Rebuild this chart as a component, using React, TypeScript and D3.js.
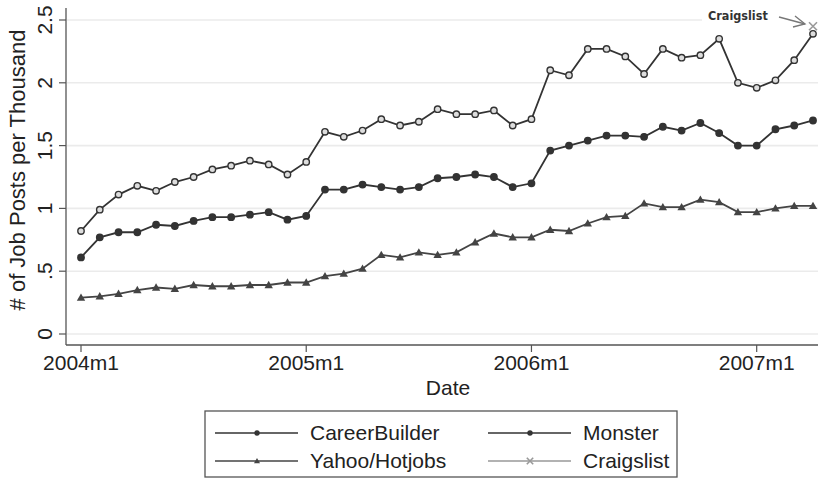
import React from "react";
import * as d3 from "d3";

const W = 820;
const H = 480;

const years = [2004, 2005, 2006, 2007];
const months = d3.range(40).map((i) => `${2004 + Math.floor(i / 12)}m${(i % 12) + 1}`);

const careerBuilder = [
  0.82, 0.99, 1.11, 1.18, 1.14, 1.21, 1.25, 1.31, 1.34, 1.38, 1.35, 1.27, 1.37,
  1.61, 1.57, 1.62, 1.71, 1.66, 1.69, 1.79, 1.75, 1.75, 1.78, 1.66, 1.71,
  2.10, 2.06, 2.27, 2.27, 2.21, 2.07, 2.27, 2.20, 2.22, 2.35, 2.00, 1.96, 2.02, 2.18, 2.39,
];
const monster = [
  0.61, 0.77, 0.81, 0.81, 0.87, 0.86, 0.90, 0.93, 0.93, 0.95, 0.97, 0.91, 0.94,
  1.15, 1.15, 1.19, 1.17, 1.15, 1.17, 1.24, 1.25, 1.27, 1.25, 1.17, 1.20,
  1.46, 1.50, 1.54, 1.58, 1.58, 1.57, 1.65, 1.62, 1.68, 1.60, 1.50, 1.50, 1.63, 1.66, 1.70,
];
const yahoo = [
  0.29, 0.30, 0.32, 0.35, 0.37, 0.36, 0.39, 0.38, 0.38, 0.39, 0.39, 0.41, 0.41,
  0.46, 0.48, 0.52, 0.63, 0.61, 0.65, 0.63, 0.65, 0.73, 0.80, 0.77, 0.77,
  0.83, 0.82, 0.88, 0.93, 0.94, 1.04, 1.01, 1.01, 1.07, 1.05, 0.97, 0.97, 1.00, 1.02, 1.02,
];
const craigslist: (number | null)[] = months.map((_, i) => (i === 39 ? 2.45 : null));

const yTicks = [0, 0.5, 1, 1.5, 2, 2.5];
const yTickLabels = ["0", ".5", "1", "1.5", "2", "2.5"];
const xTickIdx = [0, 12, 24, 36];
const xTickLabels = years.map((y) => `${y}m1`);

const seriesNames = ["CareerBuilder", "Monster", "Yahoo/Hotjobs", "Craigslist"];

const FONT = "'Liberation Sans', Arial, sans-serif";
const LINE = "#333";
const YCOL = "#444";
const CCOL = "#999";

const x = d3.scaleLinear().domain([0, 39]).range([81, 813]);
const y = d3.scaleLinear().domain([0, 2.5]).range([334, 20]);

const line = d3
  .line<number>()
  .x((_, i) => x(i))
  .y((d) => y(d));

function Circle({ cx, cy, hollow, color, r = 3.2 }: { cx: number; cy: number; hollow?: boolean; color: string; r?: number }) {
  return (
    <circle cx={cx} cy={cy} r={r} fill={hollow ? "#ddd" : color} stroke={color} strokeWidth={1.4} />
  );
}
function Tri({ cx, cy, color, s = 4.2 }: { cx: number; cy: number; color: string; s?: number }) {
  return (
    <path d={`M${cx},${cy - s}L${cx + s},${cy + s * 0.75}L${cx - s},${cy + s * 0.75}Z`} fill={color} />
  );
}
function Cross({ cx, cy, color, s = 4 }: { cx: number; cy: number; color: string; s?: number }) {
  return (
    <path d={`M${cx - s},${cy - s}L${cx + s},${cy + s}M${cx - s},${cy + s}L${cx + s},${cy - s}`} stroke={color} strokeWidth={1.6} />
  );
}

export default function App() {
  const plotLeft = 66;
  const plotRight = 818;
  const axisY = 345;
  return (
    <svg width={W} height={H} style={{ position: "absolute", left: 0, top: 0, background: "#fff" }} fontFamily={FONT}>
      <rect x={0} y={0} width={W} height={H} fill="#fff" />
      {/* gridlines */}
      {yTicks.map((t) => (
        <line key={t} x1={plotLeft + 1} x2={plotRight} y1={y(t)} y2={y(t)} stroke="#ebebeb" strokeWidth={1.6} />
      ))}
      {/* label box covering gridline */}
      <rect x={702} y={6} width={118} height={17} fill="#fff" />
      {/* axes */}
      <line x1={plotLeft} x2={plotLeft} y1={8} y2={axisY} stroke="#555" strokeWidth={1.3} />
      <line x1={plotLeft} x2={plotRight} y1={axisY} y2={axisY} stroke="#555" strokeWidth={1.3} />
      {yTicks.map((t, i) => (
        <g key={t}>
          <line x1={plotLeft - 7} x2={plotLeft} y1={y(t)} y2={y(t)} stroke="#555" strokeWidth={1.2} />
          <text
            transform={`translate(${plotLeft - 14},${y(t)}) rotate(-90)`}
            textAnchor="middle"
            fontSize={21}
            fill="#222"
          >
            {yTickLabels[i]}
          </text>
        </g>
      ))}
      {xTickIdx.map((t, i) => (
        <g key={t}>
          <line x1={x(t)} x2={x(t)} y1={axisY} y2={axisY + 7} stroke="#555" strokeWidth={1.2} />
          <text x={x(t)} y={axisY + 25} textAnchor="middle" fontSize={21} fill="#222">
            {xTickLabels[i]}
          </text>
        </g>
      ))}
      <text x={448} y={395} textAnchor="middle" fontSize={21} fill="#222">
        Date
      </text>
      <text transform={`translate(25,170) rotate(-90)`} textAnchor="middle" fontSize={22} fill="#222">
        # of Job Posts per Thousand
      </text>

      {/* series */}
      <path d={line(yahoo) || ""} fill="none" stroke={YCOL} strokeWidth={1.8} />
      <path d={line(monster) || ""} fill="none" stroke={LINE} strokeWidth={1.8} />
      <path d={line(careerBuilder) || ""} fill="none" stroke={LINE} strokeWidth={1.8} />
      {yahoo.map((v, i) => (
        <Tri key={"y" + i} cx={x(i)} cy={y(v)} color={YCOL} />
      ))}
      {monster.map((v, i) => (
        <Circle key={"m" + i} cx={x(i)} cy={y(v)} color={LINE} />
      ))}
      {careerBuilder.map((v, i) => (
        <Circle key={"c" + i} cx={x(i)} cy={y(v)} hollow color={LINE} />
      ))}
      {craigslist.map((v, i) =>
        v == null ? null : <Cross key={"g" + i} cx={x(i)} cy={y(v)} color={CCOL} />
      )}

      {/* annotation */}
      <text x={708} y={20} fontSize={12.5} fontWeight="bold" fill="#333" fontFamily="'DejaVu Sans Condensed', 'Liberation Sans Narrow', sans-serif">
        Craigslist
      </text>
      <line x1={779} y1={17} x2={805} y2={24} stroke="#777" strokeWidth={1.3} />
      <path d="M795,16 L805,24 L793,27" fill="none" stroke="#777" strokeWidth={1.3} />

      {/* legend */}
      <rect x={205} y={411} width={472} height={66} fill="#fff" stroke="#555" strokeWidth={1.3} />
      {seriesNames.map((name, i) => {
        const col = i % 2;
        const row = Math.floor(i / 2);
        const lx = col === 0 ? 215 : 488;
        const ly = row === 0 ? 433 : 461;
        const mx = lx + 42;
        const color = i === 3 ? CCOL : i === 2 ? YCOL : LINE;
        return (
          <g key={name}>
            <line x1={lx} x2={lx + 83} y1={ly} y2={ly} stroke={color} strokeWidth={1.6} />
            {i === 0 && <Circle cx={mx} cy={ly} color={color} r={2} />}
            {i === 1 && <Circle cx={mx} cy={ly} color={color} r={2} />}
            {i === 2 && <Tri cx={mx} cy={ly} color={color} s={3} />}
            {i === 3 && <Cross cx={mx} cy={ly} color={color} s={3.2} />}
            <text x={lx + 95} y={ly + 7} fontSize={21} fill="#222">
              {name}
            </text>
          </g>
        );
      })}
    </svg>
  );
}
